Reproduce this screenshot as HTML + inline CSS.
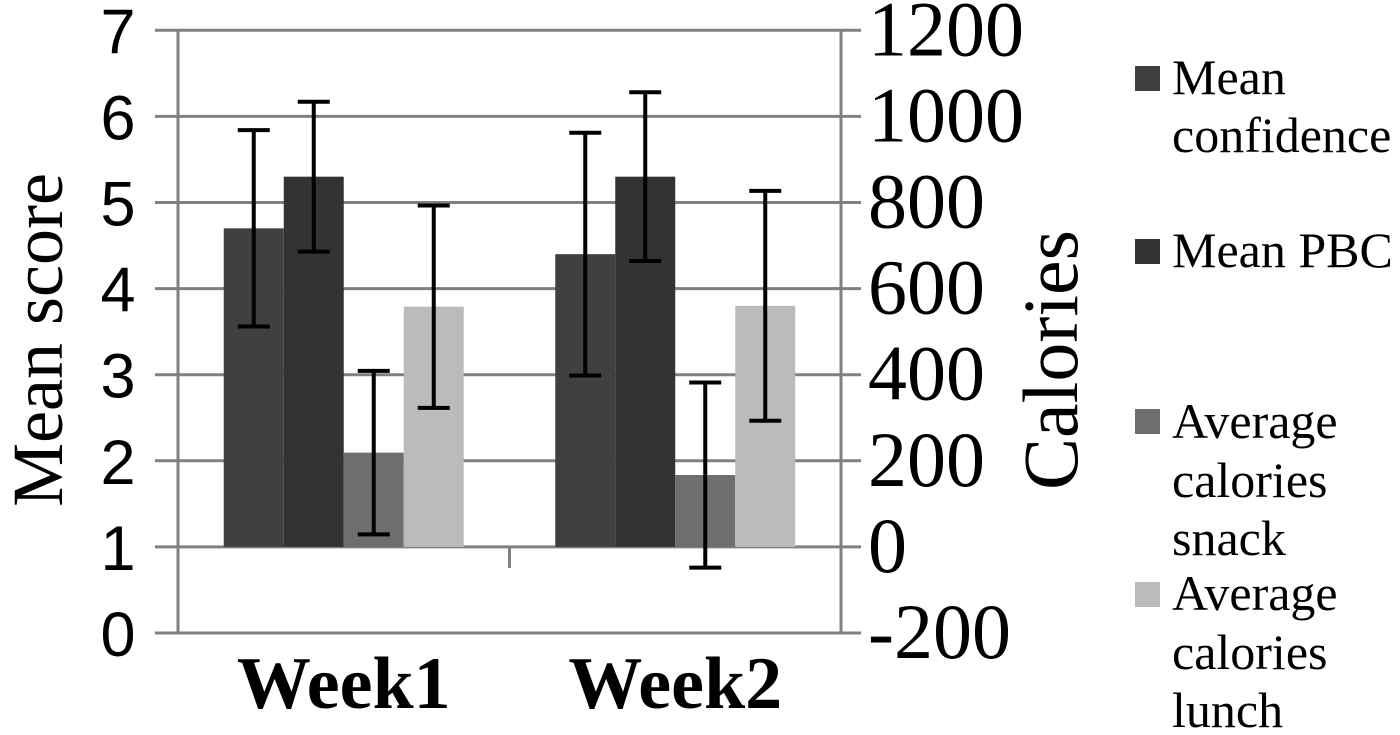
<!DOCTYPE html>
<html><head><meta charset="utf-8"><style>
html,body{margin:0;padding:0;background:#fff;}
svg{display:block;}
.ser{font-family:"Liberation Serif",serif;}
.san{font-family:"Liberation Sans",sans-serif;}
</style></head><body>
<svg id="chart" width="1400" height="735" viewBox="0 0 1400 735" xmlns="http://www.w3.org/2000/svg">
<g id="grid"></g>
<g id="bars"></g>
<g id="errs"></g>
<g id="axes"></g>
<text class="ser" font-size="72" text-anchor="middle" transform="translate(62,340) rotate(-90)">Mean score</text>
<text class="ser" font-size="78" text-anchor="middle" transform="translate(1077,360) rotate(-90)">Calories</text>
<g class="ser" font-size="50">
  <g><rect x="1135" y="66" width="25" height="25" fill="#404040"/><text x="1172" y="94">Mean</text><text x="1172" y="152">confidence</text></g>
  <g><rect x="1135" y="239" width="25" height="25" fill="#333333"/><text x="1172" y="267">Mean PBC</text></g>
  <g><rect x="1135" y="409" width="25" height="25" fill="#6e6e6e"/><text x="1172" y="438">Average</text><text x="1172" y="497">calories</text><text x="1172" y="555">snack</text></g>
  <g><rect x="1135" y="582" width="25" height="25" fill="#bbbbbb"/><text x="1172" y="610">Average</text><text x="1172" y="669">calories</text><text x="1172" y="727">lunch</text></g>
</g>
</svg>
<script>
const categories = ["Week1","Week2"];
const meanConfidence = [4.7, 4.4];
const meanConfidenceErr = [1.14, 1.41];
const meanPBC = [5.3, 5.3];
const meanPBCErr = [0.87, 0.98];
const snackCalories = [219, 167];
const snackErr = [190, 215];
const lunchCalories = [558, 560];
const lunchErr = [235, 267];
const leftTicks = [0,1,2,3,4,5,6,7];
const rightTicks = [-200,0,200,400,600,800,1000,1200];

const NS="http://www.w3.org/2000/svg";
const X0=178, X1=841, Y0=633, UNIT=86.1;
function yL(v){return Y0 - v*UNIT;}
function yR(c){return Y0 - (c+200)/200*UNIT;}
function mk(tag,attrs,parent){const e=document.createElementNS(NS,tag);for(const k in attrs)e.setAttribute(k,attrs[k]);parent.appendChild(e);return e;}
const grid=document.getElementById('grid'), axes=document.getElementById('axes'), bars=document.getElementById('bars'), errs=document.getElementById('errs');
const gc="#808080";
leftTicks.forEach(t=>{
  const l=mk('line',{x1:155,x2:X1,y1:yL(t),y2:yL(t),stroke:gc,'stroke-width':3},grid);
  
  
  const tx=mk('text',{x:118,y:yL(t)+23,'text-anchor':'middle','font-size':63,class:'san'},axes);
  tx.textContent=t;
  
  
});
rightTicks.forEach(t=>{
  const l=mk('line',{x1:X1,x2:861,y1:yR(t),y2:yR(t),stroke:gc,'stroke-width':3},axes);
  
  
  const tx=mk('text',{x:868,y:yR(t)+25,'font-size':78,class:'ser'},axes);
  tx.textContent=t;
  
  
});
let a=mk('line',{x1:X0,x2:X0,y1:yL(7),y2:Y0,stroke:gc,'stroke-width':3},axes);


a=mk('line',{x1:X1,x2:X1,y1:yL(7),y2:Y0,stroke:gc,'stroke-width':3},axes);


const gW=(X1-X0)/categories.length;
a=mk('line',{x1:X0+gW,x2:X0+gW,y1:yR(0),y2:yR(0)+21,stroke:gc,'stroke-width':3},axes);


const bw=60;
const series=[
 {v:meanConfidence,e:meanConfidenceErr,y:yL,base:1,c:'#404040',n:'bar-mean-confidence'},
 {v:meanPBC,e:meanPBCErr,y:yL,base:1,c:'#333333',n:'bar-mean-pbc'},
 {v:snackCalories,e:snackErr,y:yR,base:0,c:'#6e6e6e',n:'bar-snack-calories'},
 {v:lunchCalories,e:lunchErr,y:yR,base:0,c:'#bbbbbb',n:'bar-lunch-calories'}];
categories.forEach((cat,i)=>{
  const gx=X0+gW*i+gW/2-2*bw;
  series.forEach((s,j)=>{
    const x=gx+j*bw, top=s.y(s.v[i]), b=s.y(s.base);
    const r=mk('rect',{x:x,y:Math.min(top,b),width:bw,height:Math.abs(b-top),fill:s.c},bars);
    
    
    const cx=x+bw/2, hi=s.y(s.v[i]+s.e[i]), lo=s.y(s.v[i]-s.e[i]);
    const g=mk('g',{stroke:'#000','stroke-width':4},errs);
    
    
    mk('line',{x1:cx,x2:cx,y1:hi,y2:lo},g);
    mk('line',{x1:cx-16,x2:cx+16,y1:hi,y2:hi},g);
    mk('line',{x1:cx-16,x2:cx+16,y1:lo,y2:lo},g);
  });
  const t=mk('text',{x:X0+gW*i+gW/2,y:708,'text-anchor':'middle','font-size':74,'font-weight':'bold',class:'ser'},axes);
  t.textContent=cat;
  
  
});
</script>
</body></html>
